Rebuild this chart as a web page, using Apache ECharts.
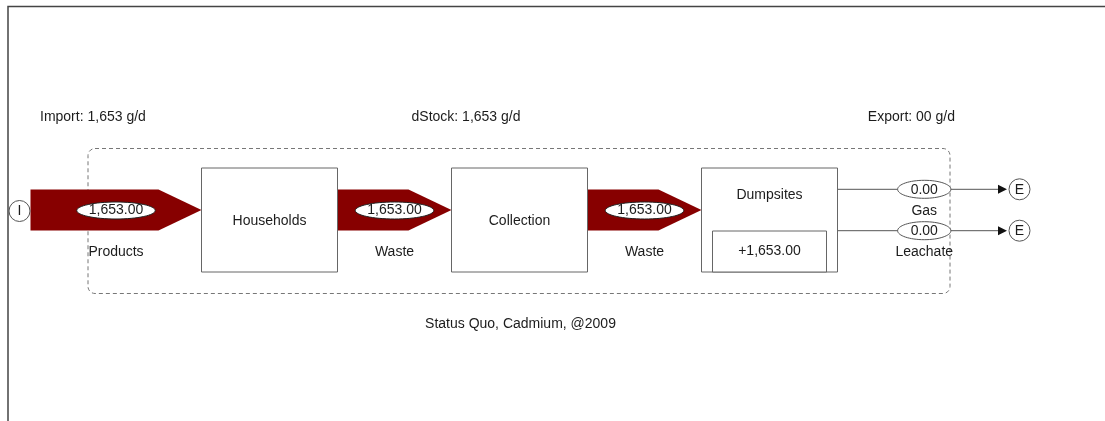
<!DOCTYPE html>
<html><head><meta charset="utf-8">
<script src="https://cdn.jsdelivr.net/npm/echarts@6/dist/echarts.min.js"></script>
<style>html,body{margin:0;padding:0;background:#fff}#c{width:1105px;height:421px}</style>
</head><body><div id="c"></div>
<script>
// ---- data ----
const processes = ['Households', 'Collection', 'Dumpsites'];
const stockChanges = [null, null, 1653.00];
const flowNames = ['Products', 'Waste', 'Waste', 'Gas', 'Leachate'];
const flowFrom = ['Import', 'Households', 'Collection', 'Dumpsites', 'Dumpsites'];
const flowTo = ['Households', 'Collection', 'Dumpsites', 'Export', 'Export'];
const flowValues = [1653.00, 1653.00, 1653.00, 0.00, 0.00];
const summaryLabels = ['Import: 1,653 g/d', 'dStock: 1,653 g/d', 'Export: 00 g/d'];
const caption = 'Status Quo, Cadmium, @2009';

// ---- layout / style ----
const FONT = '14px "Liberation Sans", Arial, sans-serif';
const TXT = '#1c1c1c';
const RED = '#870000';
const ROW = 210;          // y of the main flow row (y-axis units = px)
const BOX_HW = 68;        // half width of a process box
const NODE_R = 10.5;
const HEAD = 43;
const MAX_BAND = 41;
const maxVal = Math.max.apply(null, flowValues);

function stageOf(node) {
  if (node === 'Import') return 0;
  if (node === 'Export') return processes.length + 1;
  return processes.indexOf(node) + 1;
}
const mctx = document.createElement('canvas').getContext('2d');
mctx.font = FONT;
function tw(s) { return mctx.measureText(s).width; }
function fmt(v) { return v.toLocaleString('en-US', {minimumFractionDigits: 2, maximumFractionDigits: 2}); }

// lanes for parallel flows between same pair
const laneData = flowValues.map(function (v, i) {
  const same = [];
  for (let j = 0; j < flowValues.length; j++) if (flowFrom[j] === flowFrom[i] && flowTo[j] === flowTo[i]) same.push(j);
  const n = same.length, k = same.indexOf(i);
  const lane = n > 1 ? (-MAX_BAND / 2 - 0.2) + k * (MAX_BAND + 0.4) / (n - 1) : 0;
  return [stageOf(flowFrom[i]), stageOf(flowTo[i]), v, lane];
});
const exportStage = processes.length + 1;

function txt(s, x, y, align) {
  return {type: 'text', style: {text: s, x: x, y: y, font: FONT, fill: TXT, align: align || 'center', verticalAlign: 'middle', textAlign: align || 'center', textVerticalAlign: 'middle'}};
}

function renderFlow(params, api) {
  const i = params.dataIndex;
  const s0 = api.value(0), s1 = api.value(1), v = api.value(2), lane = api.value(3);
  const p0 = api.coord([s0, ROW + lane]);
  const p1 = api.coord([s1, ROW + lane]);
  const yc = p0[1];
  const x0 = s0 === 0 ? p0[0] + NODE_R + 0.5 : p0[0] + BOX_HW;
  const x1 = s1 === exportStage ? p1[0] - NODE_R - 2 : p1[0] - BOX_HW;
  const h = v / maxVal * MAX_BAND;
  const children = [];
  const label = fmt(v);
  const w = tw(label);
  const mx = (x0 + x1) / 2;
  let nameY, lx;
  if (h >= 2) {
    const hh = h / 2;
    children.push({type: 'polygon', shape: {points: [[x0, yc - hh], [x1 - HEAD, yc - hh], [x1, yc], [x1 - HEAD, yc + hh], [x0, yc + hh]]},
      style: {fill: RED, stroke: null}});
    children.push({type: 'ellipse', shape: {cx: mx, cy: yc + 0.5, rx: w / 2 + 12, ry: 8.5}, style: {fill: '#fff', stroke: '#222', lineWidth: 1}});
    nameY = yc + hh + 21.5;
    lx = mx;
  } else {
    children.push({type: 'line', shape: {x1: x0, y1: yc, x2: x1 - 8, y2: yc}, style: {stroke: '#555', lineWidth: 1}});
    children.push({type: 'polygon', shape: {points: [[x1 - 9, yc - 4.5], [x1, yc], [x1 - 9, yc + 4.5]]}, style: {fill: '#111'}});
    lx = mx + 2;
    children.push({type: 'ellipse', shape: {cx: lx, cy: yc, rx: w / 2 + 13, ry: 9}, style: {fill: '#fff', stroke: '#555', lineWidth: 1}});
    nameY = yc + 21.5;
  }
  children.push(txt(label, lx, yc + 0.5));
  children.push(txt(flowNames[i], lx, nameY));
  return {type: 'group', children: children};
}

const processData = processes.map(function (p, i) { return [i + 1, stockChanges[i] === null ? NaN : stockChanges[i]]; });
function renderProcess(params, api) {
  const i = params.dataIndex;
  const c = api.coord([api.value(0), ROW]);
  const st = api.value(1);
  const top = c[1] - 42, bot = c[1] + 62;
  const ch = [{type: 'rect', shape: {x: c[0] - BOX_HW, y: top, width: 2 * BOX_HW, height: bot - top}, style: {fill: '#fff', stroke: '#666', lineWidth: 1}}];
  const hasStock = !isNaN(st);
  ch.push(txt(processes[i], c[0], hasStock ? c[1] - 15 : c[1] + 11));
  if (hasStock) {
    ch.push({type: 'rect', shape: {x: c[0] - 57, y: c[1] + 21, width: 114, height: 41}, style: {fill: '#fff', stroke: '#666', lineWidth: 1}});
    ch.push(txt((st >= 0 ? '+' : '') + fmt(st), c[0], c[1] + 41.5));
  }
  return {type: 'group', children: ch};
}

// import / export terminal nodes, one per boundary flow
const terminalData = [];
laneData.forEach(function (d) {
  if (d[0] === 0) terminalData.push([0, d[3], 'I']);
  if (d[1] === exportStage) terminalData.push([exportStage, d[3], 'E']);
});
function renderTerminal(params, api) {
  const c = api.coord([api.value(0), ROW + api.value(1)]);
  const t = terminalData[params.dataIndex][2];
  return {type: 'group', children: [
    {type: 'circle', shape: {cx: c[0], cy: c[1] + (t === 'I' ? 1 : 0), r: NODE_R}, style: {fill: '#fff', stroke: '#555', lineWidth: 1}},
    txt(t, c[0], c[1] + (t === 'I' ? 1.5 : 0.5))
  ]};
}

const chart = echarts.init(document.getElementById('c'), null, {renderer: 'canvas'});
chart.setOption({
  animation: false,
  backgroundColor: '#fff',
  grid: {left: 19.5, right: 85.5, top: 0, bottom: 0},
  xAxis: {type: 'value', min: 0, max: exportStage, show: false},
  yAxis: {type: 'value', min: 0, max: 421, inverse: true, show: false},
  graphic: [
    {type: 'polyline', shape: {points: [[8, 421], [8, 6.5], [1105, 6.5]]}, style: {stroke: '#444', lineWidth: 1.5, fill: null}, z: 1},
    {type: 'rect', shape: {x: 88, y: 148.5, width: 862, height: 145, r: 7}, style: {fill: null, stroke: '#777', lineWidth: 1, lineDash: [4, 3]}, z: 1},
    {type: 'text', x: 40, y: 117, style: {text: summaryLabels[0], font: FONT, fill: TXT, align: 'left', verticalAlign: 'middle'}},
    {type: 'text', x: 466, y: 117, style: {text: summaryLabels[1], font: FONT, fill: TXT, align: 'center', verticalAlign: 'middle'}},
    {type: 'text', x: 955, y: 117, style: {text: summaryLabels[2], font: FONT, fill: TXT, align: 'right', verticalAlign: 'middle'}},
    {type: 'text', x: 520.5, y: 324, style: {text: caption, font: FONT, fill: TXT, align: 'center', verticalAlign: 'middle'}}
  ],
  series: [
    {type: 'custom', name: 'flows', data: laneData, renderItem: renderFlow, z: 3, clip: false},
    {type: 'custom', name: 'processes', data: processData, renderItem: renderProcess, z: 4, clip: false},
    {type: 'custom', name: 'terminals', data: terminalData, renderItem: renderTerminal, z: 4, clip: false}
  ]
});
</script></body></html>
